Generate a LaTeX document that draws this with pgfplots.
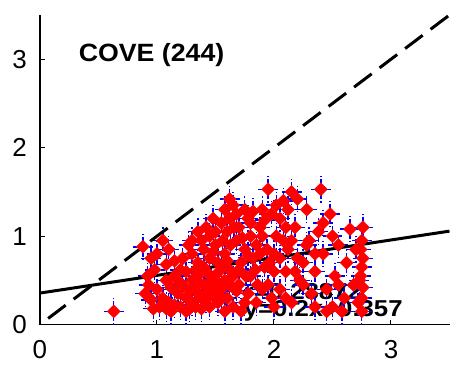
\documentclass[border=0pt]{standalone}
\usepackage{fontspec}
\setmainfont{Liberation Sans}
\usepackage{pgfplots}
\pgfplotsset{compat=1.18}
\usepackage{pgfplotstable}
\pgfplotstableread{
x y
0.63 0.15
0.88 0.88
0.95 0.75
0.92 0.55
0.98 0.62
0.90 0.35
0.95 0.28
1.00 0.40
1.02 0.20
0.97 0.18
1.05 0.30
1.08 0.50
1.10 0.25
1.12 0.15
1.05 0.95
1.10 0.85
1.15 0.72
1.18 0.35
1.20 0.20
1.22 0.45
1.00 0.80
0.93 0.45
1.15 0.55
1.25 0.30
1.28 0.18
1.30 0.25
1.25 0.15
1.08 0.68
1.20 0.62
1.27 0.90
1.30 0.50
1.32 0.40
1.35 0.55
1.38 0.30
1.40 0.45
1.42 0.60
1.35 0.70
1.40 0.85
1.45 1.00
1.38 0.95
1.48 0.35
1.50 0.50
1.52 0.25
1.45 0.20
1.55 0.40
1.55 0.65
1.58 0.80
1.50 0.90
1.60 1.05
1.62 1.20
1.58 1.30
1.62 1.42
1.65 1.35
1.68 0.95
1.70 1.10
1.72 0.70
1.65 0.55
1.60 0.30
1.70 0.45
1.75 0.85
1.78 1.20
1.80 1.00
1.75 1.30
1.68 1.25
1.55 1.15
1.48 1.20
1.42 1.10
1.35 1.05
1.30 0.80
1.33 0.62
1.45 0.75
1.52 0.70
1.62 0.62
1.72 0.15
1.65 0.20
1.58 0.15
1.78 0.35
1.80 0.55
1.82 0.75
1.85 0.90
1.88 1.10
1.90 1.30
1.95 1.53
1.92 0.65
1.95 0.45
1.98 0.30
2.00 0.80
2.02 1.00
2.05 1.20
2.08 1.40
2.10 0.60
2.12 0.85
2.15 1.50
2.18 1.10
2.20 1.42
2.22 0.50
2.25 0.70
2.28 1.30
2.30 0.95
2.32 0.35
2.35 0.60
2.38 1.05
2.40 1.53
2.42 0.80
2.45 0.40
2.48 1.25
2.50 0.20
2.52 0.55
2.55 0.90
2.58 0.15
2.60 0.30
2.62 0.70
2.65 1.08
2.68 0.45
2.70 0.85
2.00 0.20
2.05 0.40
2.10 0.30
2.15 0.25
2.25 0.45
2.35 0.20
2.45 0.15
2.55 0.45
1.85 0.25
1.90 0.40
2.00 0.60
2.08 0.95
2.20 0.75
2.28 0.90
2.35 0.80
2.42 1.15
2.50 1.00
2.75 0.15
2.75 0.30
2.76 0.42
2.74 0.55
2.75 0.65
2.76 0.75
2.74 0.85
2.75 0.95
2.76 1.10
2.73 0.50
2.72 0.25
1.12 0.42
1.18 0.50
1.22 0.75
1.25 0.60
1.28 0.38
1.30 0.95
1.33 0.20
1.36 0.48
1.40 0.65
1.43 0.38
1.46 0.55
1.48 0.82
1.50 1.05
1.53 0.60
1.56 0.95
1.58 0.50
1.60 0.72
1.63 0.90
1.66 1.10
1.68 0.38
1.70 0.62
1.73 0.98
1.76 0.55
1.78 0.78
1.80 1.15
1.82 1.28
1.84 0.62
1.86 0.45
1.88 0.80
1.90 1.00
1.92 1.18
1.94 0.85
1.96 0.70
1.98 1.25
2.02 1.35
2.05 0.75
2.10 1.10
2.12 1.30
2.15 0.95
2.18 0.60
1.42 0.28
1.38 0.18
1.15 0.22
1.08 0.18
1.35 0.35
1.52 0.42
1.62 0.45
1.75 0.25
1.55 0.30
1.45 0.48
}\pts
\begin{document}
\begin{tikzpicture}
\begin{axis}[
  at={(0,0)}, anchor=origin,
  scale only axis,
  width=410pt, height=310pt,
  xmin=0, xmax=3.5, ymin=0, ymax=3.5,
  axis x line*=bottom, axis y line*=left,
  axis line style={line width=1.5pt, black},
  xtick={0,1,2,3}, ytick={0,1,2,3},
  tick align=inside,
  major tick length=5pt,
  tick style={line width=1pt, black},
  /pgf/number format/assume math mode=true,
  ticklabel style={font=\fontsize{26}{28}\selectfont, inner sep=0pt},
  xticklabel style={anchor=north, yshift=-16pt},
  yticklabel style={anchor=east, xshift=-13pt},
  clip=false,
]
\addplot[draw=none] coordinates {(1.74,0.375)} node[anchor=west, font=\bfseries\fontsize{23}{25}\selectfont, inner sep=0pt, xscale=1.12] {r=0.28872};
\addplot[draw=none] coordinates {(1.74,0.16)} node[anchor=west, font=\bfseries\fontsize{23}{25}\selectfont, inner sep=0pt, xscale=1.12] {y=0.2x+0.357};
\addplot[only marks, mark=square*, mark size=4.6pt,
  mark options={rotate=45, fill=red, draw=red},
  error bars/.cd, x dir=both, x fixed=0.1, y dir=both, y fixed=0.15,
  error mark=none,
  error bar style={blue, line width=1.5pt, dash pattern=on 4pt off 2pt}]
  table {\pts};
\addplot[black, line width=3pt, dash pattern=on 22pt off 10pt] coordinates {(0.07,0.07) (3.5,3.5)};
\addplot[black, line width=3pt] coordinates {(0,0.357) (3.5,1.057)};
\node[anchor=west, font=\bfseries\fontsize{25}{27}\selectfont, inner sep=0pt, xscale=1.07] at (axis cs:0.33,3.05) {COVE (244)};
\end{axis}
\path (-40pt,-40pt) rectangle (411pt,325pt);
\end{tikzpicture}
\end{document}
